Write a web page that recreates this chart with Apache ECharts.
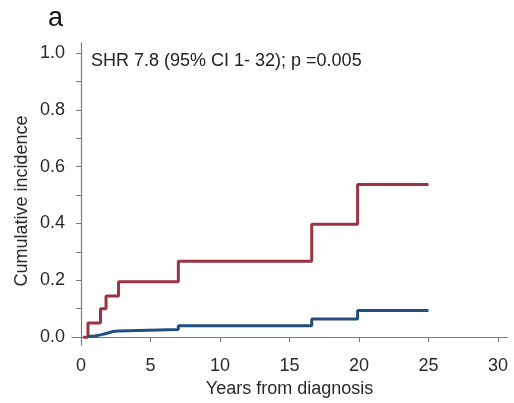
<!DOCTYPE html>
<html>
<head>
<meta charset="utf-8">
<script src="https://cdn.jsdelivr.net/npm/echarts@6/dist/echarts.min.js"></script>
<style>html,body{margin:0;padding:0;background:#fff}#c{width:514px;height:403px}</style>
</head>
<body>
<div id="c"></div>
<script>
// Data
var redTimes  = [0.15, 0.5, 1.4, 1.8, 2.7, 7.0, 16.6, 19.9, 25];
var redInc    = [0, 0.05, 0.1, 0.145, 0.195, 0.267, 0.397, 0.537, 0.537];
var blueTimes = [0.5, 0.9, 1.4, 1.8, 2.3, 2.7, 7.0, 16.6, 19.9, 25];
var blueInc   = [0.003, 0.008, 0.013, 0.02, 0.022, 0.027, 0.04, 0.064, 0.094, 0.094];
var xTicks = [0, 5, 10, 15, 20, 25, 30];
var yLabels = [0, 0.2, 0.4, 0.6, 0.8, 1.0];
var yTicks = [0, 0.1, 0.2, 0.3, 0.4, 0.5, 0.6, 0.7, 0.8, 0.9, 1.0];
var panelLabel = 'a';
var annotation = 'SHR 7.8 (95% CI 1- 32); p =0.005';
var xTitle = 'Years from diagnosis';
var yTitle = 'Cumulative incidence';

function pairs(xs, ys){ return xs.map(function(x,i){ return [x, ys[i]]; }); }

var font = 'Liberation Sans, Arial, sans-serif';
var axisCol = '#7a7a7a';
var txt = '#2a2a2a';
var chart = echarts.init(document.getElementById('c'), null, {renderer:'canvas'});
chart.setOption({
  animation:false,
  backgroundColor:'#fff',
  grid:{left:72, right:7, top:43, bottom:55},
  xAxis:{
    type:'value', min:-0.65, max:30.65,
    splitLine:{show:false},
    axisLine:{lineStyle:{color:axisCol, width:1.2}},
    axisTick:{customValues:xTicks, length:5, lineStyle:{color:axisCol}},
    axisLabel:{customValues:xTicks, margin:12, fontSize:18, color:txt, fontFamily:font},
    name:xTitle, nameLocation:'middle', nameGap:26,
    nameTextStyle:{fontSize:18, color:txt, fontFamily:font}
  },
  yAxis:{
    type:'value', min:-0.028, max:1.035,
    splitLine:{show:false},
    axisLine:{show:true, lineStyle:{color:axisCol, width:1.2}},
    axisTick:{show:true, customValues:yTicks, length:5, lineStyle:{color:axisCol}},
    axisLabel:{customValues:yLabels, margin:7, fontSize:18, color:txt, fontFamily:font,
      formatter:function(v){ return v.toFixed(1); }}
  },
  graphic:[
    {type:'text', left:48, top:5, style:{text:panelLabel, fontSize:27, fill:'#111', fontFamily:font}},
    {type:'text', left:91, top:52, style:{text:annotation, fontSize:18, fill:'#222', fontFamily:font}},
    {type:'text', x:22, y:201, rotation:Math.PI/2,
      style:{text:yTitle, fontSize:18, fill:txt, fontFamily:font, align:'center', verticalAlign:'middle'}}
  ],
  series:[
    {type:'line', step:'end', showSymbol:false, data:pairs(redTimes, redInc),
      lineStyle:{color:'#9a3443', width:3}},
    {type:'line', step:'end', showSymbol:false, data:pairs(blueTimes, blueInc),
      lineStyle:{color:'#22507e', width:3}}
  ]
});
</script>
</body>
</html>
